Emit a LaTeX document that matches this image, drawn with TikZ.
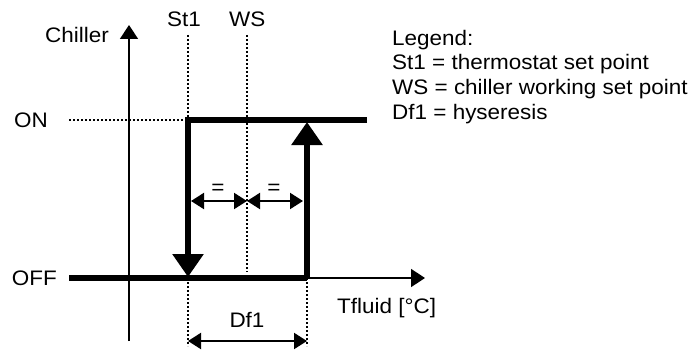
\documentclass[tikz,border=0pt]{standalone}
\usepackage{fontspec}
\setmainfont[FakeStretch=1.07]{Liberation Sans}
\usetikzlibrary{arrows.meta}
\begin{document}
\begin{tikzpicture}[x=1pt,y=-1pt,
  lbl/.style={inner sep=0pt,font=\fontsize{21}{25}\selectfont},
  thin axis/.style={line width=1.6pt,-{Triangle[width=18pt,length=14pt]}},
  thick line/.style={line width=6pt,line join=miter,line cap=butt},
  bigarrow/.style={thick line,-{Triangle[width=30pt,length=23pt]}},
  dotline/.style={line width=1.8pt,dash pattern=on 1.8pt off 2.2pt},
  dimarrow/.style={line width=2pt,{Triangle[width=16pt,length=13pt]}-{Triangle[width=16pt,length=13pt]}}]
\useasboundingbox (0,0) rectangle (692,350);
% coordinates
\coordinate (ybot) at (129,341);
\coordinate (ytop) at (129,25);
\coordinate (xleft) at (129,278);
\coordinate (xright) at (425,278);
\coordinate (offstart) at (69,278);
\coordinate (offend) at (307,278);
\coordinate (onend) at (367,120);
\coordinate (corner) at (188,120);
\coordinate (downtip) at (188,277);
\coordinate (uptip) at (307,122);
\coordinate (ondot) at (69,120);
\coordinate (st1top) at (188,35);
\coordinate (wstop) at (247,35);
\coordinate (wsbot) at (247,272);
\coordinate (st1low) at (188,278);
\coordinate (st1bot) at (188,346);
\coordinate (dfrlow) at (307,278);
\coordinate (dfrbot) at (307,346);
\coordinate (eqa) at (191,201);
\coordinate (eqb) at (247,201);
\coordinate (eqc) at (303,201);
\coordinate (dfa) at (188,341);
\coordinate (dfb) at (307,341);
% dotted guides
\draw[dotline] (ondot) -- (corner);
\draw[dotline] (st1top) -- (corner);
\draw[dotline] (wstop) -- (wsbot);
\draw[dotline] (st1low) -- (st1bot);
\draw[dotline] (dfrlow) -- (dfrbot);
% axes
\draw[thin axis] (ybot) -- (ytop);
\draw[thin axis] (xleft) -- (xright);
% hysteresis loop
\draw[thick line] (offstart) -- (offend);
\draw[bigarrow] (onend) -- (corner) -- (downtip);
\draw[bigarrow] (offend) -- (uptip);
% dimension arrows
\draw[dimarrow] (eqa) -- (eqb);
\draw[dimarrow] (eqb) -- (eqc);
\draw[dimarrow] (dfa) -- (dfb);
% labels
\node[lbl,anchor=base west] (chiller) at (45,43) {Chiller};
\node[lbl,anchor=base west] (st1) at (167,27) {St1};
\node[lbl,anchor=base west] (ws) at (229,27) {WS};
\node[lbl,anchor=east] (on) at (48,120) {ON};
\node[lbl,anchor=east] (off) at (57,278) {OFF};
\node[lbl] (eq1) at (218,189) {=};
\node[lbl] (eq2) at (274,189) {=};
\node[lbl] (df1) at (247,320) {Df1};
\node[lbl,anchor=west] (tfluid) at (337,308) {Tfluid [°C]};
\node[lbl,anchor=base west] (leg0) at (392,46) {Legend:};
\node[lbl,anchor=base west] (leg1) at (392,70) {St1 = thermostat set point};
\node[lbl,anchor=base west] (leg2) at (392,95) {WS = chiller working set point};
\node[lbl,anchor=base west] (leg3) at (392,119) {Df1 = hyseresis};
\end{tikzpicture}
\end{document}
